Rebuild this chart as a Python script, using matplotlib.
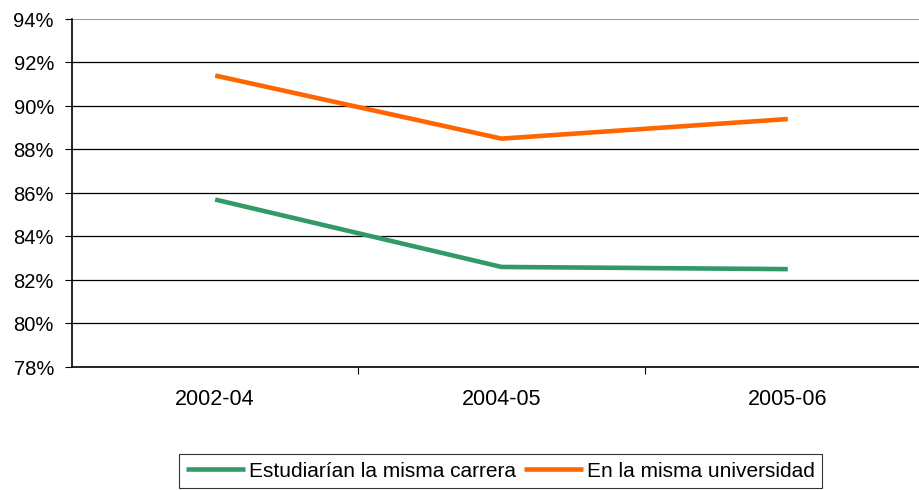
import matplotlib
matplotlib.use("Agg")
import matplotlib.pyplot as plt
from matplotlib.ticker import FixedLocator

plt.rcParams['font.family'] = ['Liberation Sans', 'DejaVu Sans']

categories = ["2002-04", "2004-05", "2005-06"]
misma_carrera = [85.7, 82.6, 82.5]
misma_universidad = [91.4, 88.5, 89.4]
yticks = [78, 80, 82, 84, 86, 88, 90, 92, 94]

fig = plt.figure(figsize=(9.19, 4.90), dpi=100)
ax = fig.add_axes([72/919, 123/490, 859/919, 348/490])

x = list(range(len(categories)))
ax.plot(x, misma_carrera, color="#339966", lw=3.3, label="Estudiarían la misma carrera", solid_capstyle='butt')
ax.plot(x, misma_universidad, color="#FF6600", lw=3.3, label="En la misma universidad", solid_capstyle='butt')

ax.set_xlim(-0.5, 2.5)
ax.set_ylim(78, 94)
ax.set_yticks(yticks)
ax.set_yticklabels([f"{v}%" for v in yticks], fontsize=14.5)
for v in yticks[1:-1]:
    ax.axhline(v, color="black", lw=0.9, zorder=0)
ax.axhline(94, color="#999999", lw=1.5, zorder=0)

ax.xaxis.set_major_locator(FixedLocator([0.5, 1.5]))
ax.xaxis.set_minor_locator(FixedLocator(x))
ax.set_xticklabels(["", ""])
ax.set_xticklabels(categories, minor=True, fontsize=15.5)
ax.tick_params(axis='x', which='major', length=5, width=0.8, direction='out')
ax.tick_params(axis='x', which='minor', length=0, pad=16)
ax.tick_params(axis='y', length=5, width=0.8, direction='out', pad=8)

for s in ['top', 'right']:
    ax.spines[s].set_visible(False)
ax.spines['left'].set_color('black')
ax.spines['bottom'].set_color('black')
ax.spines['left'].set_linewidth(1.2)
ax.spines['bottom'].set_linewidth(1.2)

leg = fig.legend(loc='center', bbox_to_anchor=(500.5/919, 19/490), ncol=2,
                 fontsize=15, frameon=True, fancybox=False, edgecolor='black',
                 handlelength=2.8, handletextpad=0.2, columnspacing=0.4,
                 borderpad=0.35, borderaxespad=0)
leg.get_frame().set_linewidth(0.8)

fig.savefig("out.png", dpi=100)
